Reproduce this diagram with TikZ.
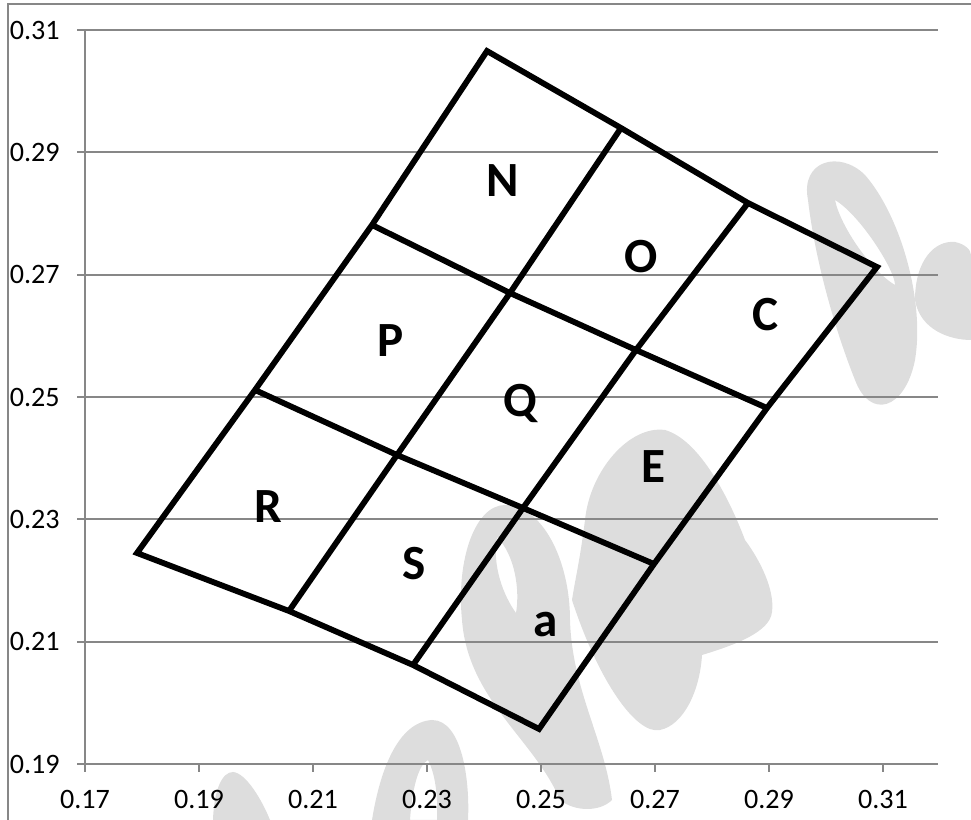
\documentclass[tikz,border=0pt]{standalone}
\usepackage{fontspec}
\setmainfont{Carlito}
\definecolor{gridgray}{RGB}{135,135,135}
\definecolor{wmgray}{RGB}{221,221,221}
\tikzset{
  gridln/.style={draw=gridgray, line width=1.1pt},
  edgeln/.style={draw=black, line width=3.3pt, line join=miter},
  ticklbl/.style={font=\fontsize{16}{18}\selectfont, inner sep=0pt},
  celllbl/.style={font=\fontsize{28}{30}\selectfont\bfseries, anchor=base, inner sep=0pt},
  wmark/.style={fill=wmgray, even odd rule}
}
\begin{document}
\begin{tikzpicture}[x=0.02cm,y=-0.02cm]
\useasboundingbox (0,0) rectangle (971,820);
% watermark in the back
\fill[wmark] (213,820) .. controls (214,790) and (222,772) .. (233,772)
  .. controls (246,773) and (262,800) .. (270,820) -- cycle;
\fill[wmark] (372,820) .. controls (380,770) and (398,722) .. (432,720)
  .. controls (462,720) and (470,780) .. (468,820) -- cycle
  (410,820) .. controls (412,790) and (418,765) .. (428,760)
  .. controls (436,775) and (438,800) .. (437,820) -- cycle;
\fill[wmark] (462,620) .. controls (456,560) and (475,505) .. (505,505)
  .. controls (542,505) and (570,560) .. (570,620)
  .. controls (572,690) and (605,740) .. (612,800)
  .. controls (600,812) and (575,812) .. (560,800)
  .. controls (535,740) and (468,700) .. (462,620) -- cycle
  (497,537) .. controls (515,555) and (520,590) .. (516,613)
  .. controls (503,595) and (492,565) .. (497,537) -- cycle;
\fill[wmark] (572,600) .. controls (598,680) and (636,735) .. (660,730)
  .. controls (684,725) and (700,690) .. (702,655)
  .. controls (735,645) and (770,632) .. (772,612)
  .. controls (775,590) and (760,560) .. (745,540)
  .. controls (730,500) and (700,440) .. (665,430)
  .. controls (630,425) and (590,470) .. (585,520)
  .. controls (580,560) and (575,580) .. (572,600) -- cycle;
\fill[wmark] (808,200) .. controls (800,160) and (840,150) .. (865,175)
  .. controls (900,215) and (925,300) .. (915,360)
  .. controls (905,410) and (870,420) .. (855,380)
  .. controls (835,330) and (815,260) .. (808,200) -- cycle
  (835,200) .. controls (860,215) and (895,270) .. (895,285)
  .. controls (870,270) and (840,225) .. (835,200) -- cycle;
\fill[wmark] (915,300) .. controls (915,260) and (935,240) .. (955,242)
  .. controls (965,244) and (971,250) .. (971,255) -- (971,340)
  .. controls (950,340) and (920,330) .. (915,300) -- cycle;
% frame of the chart
\draw[gridln] (8,820) -- (8,4) -- (971,4);
% horizontal grid and y labels
\foreach \k/\lbl in {0/0.19,1/0.21,2/0.23,3/0.25,4/0.27,5/0.29,6/0.31}{
  \draw[gridln] (77,{764-122.33*\k}) -- (938,{764-122.33*\k});
  \node[ticklbl,anchor=east] (ylbl\k) at (60,{764-122.33*\k}) {\lbl};
}
% x ticks and labels
\foreach \k/\lbl in {0/0.17,1/0.19,2/0.21,3/0.23,4/0.25,5/0.27,6/0.29,7/0.31}{
  \draw[gridln] ({85+114*\k},764) -- ({85+114*\k},772);
  \node[ticklbl,anchor=north] (xlbl\k) at ({85+114*\k},790) {\lbl};
}
\draw[gridln] (85,30) -- (85,772);
% mesh vertices
\coordinate (v00) at (487,51);  \coordinate (v01) at (621,128);
\coordinate (v02) at (748,203); \coordinate (v03) at (877,267);
\coordinate (v10) at (372,225); \coordinate (v11) at (510,293);
\coordinate (v12) at (636,350); \coordinate (v13) at (767,408);
\coordinate (v20) at (255,390); \coordinate (v21) at (397,455);
\coordinate (v22) at (523,508); \coordinate (v23) at (654,564);
\coordinate (v30) at (137,553); \coordinate (v31) at (289,611);
\coordinate (v32) at (413,665); \coordinate (v33) at (539,729);
% outer boundary
\draw[edgeln] (v00) -- (v01) -- (v02) -- (v03) -- (v13) -- (v23) -- (v33)
  -- (v32) -- (v31) -- (v30) -- (v20) -- (v10) -- cycle;
% inner lines
\draw[edgeln] (v10) -- (v11) -- (v12) -- (v13);
\draw[edgeln] (v20) -- (v21) -- (v22) -- (v23);
\draw[edgeln] (v01) -- (v11) -- (v21) -- (v31);
\draw[edgeln] (v02) -- (v12) -- (v22) -- (v32);
% cell names
\foreach \nm/\px/\py in {N/503/197,O/641/273,C/766/331,P/391/357,Q/520/417,E/653/483,R/268/523,S/414/580,a/546/637}
  \node[celllbl] (cell\nm) at (\px,\py) {\nm};
\end{tikzpicture}
\end{document}
